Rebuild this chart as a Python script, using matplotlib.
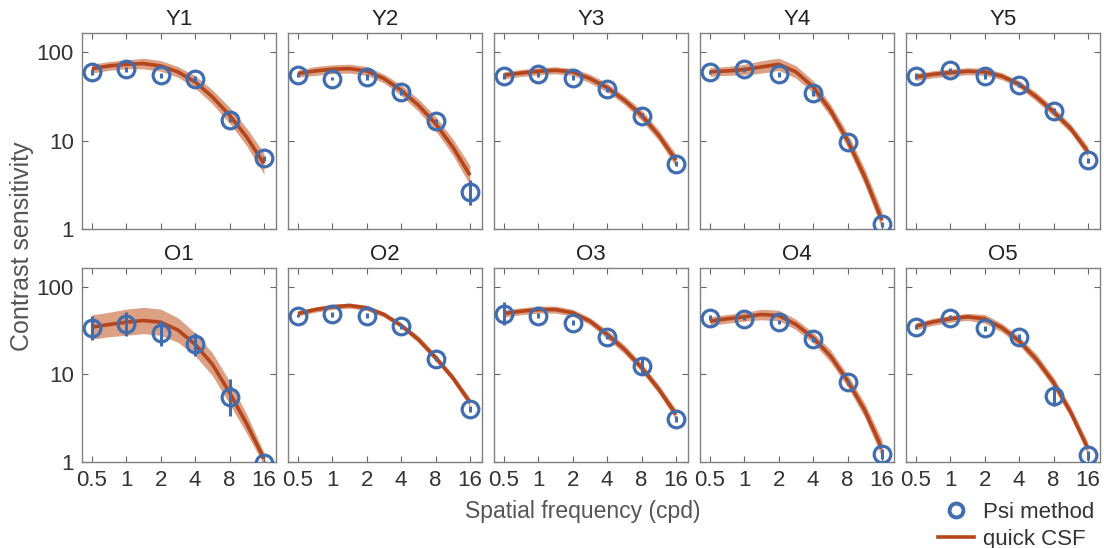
import numpy as np
import matplotlib
matplotlib.use('Agg')
import matplotlib.pyplot as plt
from matplotlib.lines import Line2D

plt.rcParams['font.family'] = ['Liberation Sans', 'DejaVu Sans']

# Observers and spatial frequencies (cpd)
panels = ['Y1', 'Y2', 'Y3', 'Y4', 'Y5', 'O1', 'O2', 'O3', 'O4', 'O5']
freqs = [0.5, 1, 2, 4, 8, 16]
curve_freqs = [0.5, 0.71, 1, 1.41, 2, 2.83, 4, 5.66, 8, 11.3, 16]

# Psi method thresholds (contrast sensitivity)
psi = {
    'Y1': [60, 64, 55, 50, 17.3, 6.3],
    'Y2': [55, 50.4, 52.6, 35.6, 16.6, 2.6],
    'Y3': [54, 56.4, 51.7, 38.2, 19.1, 5.5],
    'Y4': [60, 64.3, 56.4, 34.7, 9.7, 1.13],
    'Y5': [54, 62.6, 54, 43.1, 21.7, 6.0],
    'O1': [34.2, 38, 29.5, 22.1, 5.5, 0.98],
    'O2': [47.2, 48.5, 47.2, 35.7, 15.2, 4.04],
    'O3': [49.3, 47.2, 39, 27, 12.5, 3.1],
    'O4': [44.4, 43.6, 40, 25.2, 8.1, 1.24],
    'O5': [35.1, 44.4, 33.6, 26.8, 5.7, 1.19],
}
# Psi error bars, half-width in log10 units
psi_err = {
    'Y1': [0.03, 0.03, 0.03, 0.03, 0.03, 0.03],
    'Y2': [0.02, 0.02, 0.03, 0.03, 0.03, 0.14],
    'Y3': [0.03, 0.03, 0.03, 0.03, 0.03, 0.03],
    'Y4': [0.02, 0.03, 0.03, 0.03, 0.03, 0.03],
    'Y5': [0.03, 0.03, 0.03, 0.03, 0.03, 0.03],
    'O1': [0.137, 0.14, 0.146, 0.13, 0.21, 0.02],
    'O2': [0.02, 0.03, 0.03, 0.03, 0.03, 0.03],
    'O3': [0.13, 0.03, 0.03, 0.03, 0.1, 0.03],
    'O4': [0.03, 0.02, 0.02, 0.03, 0.03, 0.06],
    'O5': [0.02, 0.03, 0.03, 0.03, 0.12, 0.05],
}

# quick CSF estimate and credible band (half-width, log10 units)
qcsf = {
    'Y1': [65.3, 70.1, 73.1, 74.5, 70.1, 60, 46.2, 31.3, 19.4, 11.0, 5.5],
    'Y2': [57.4, 61.5, 64.3, 65.3, 61.5, 50.4, 37.2, 25.2, 15.6, 8.5, 4.07],
    'Y3': [55, 58.3, 61, 62.6, 60, 50.4, 39.9, 28.7, 19.4, 11.5, 6.0],
    'Y4': [60, 61.5, 63.7, 68.2, 73.1, 60, 40.6, 22.1, 10.1, 3.9, 1.26],
    'Y5': [52.6, 56.4, 58.9, 61, 60, 53.6, 43.5, 31.3, 21.2, 13.7, 7.5],
    'O1': [34.8, 37.3, 39.6, 41.4, 39.6, 32.2, 22.1, 13.1, 6.2, 2.73, 1.09],
    'O2': [49.8, 55.2, 59.3, 61.4, 57.7, 48.5, 36.4, 25.2, 15.6, 9.2, 4.8],
    'O3': [49.8, 52.8, 55.2, 55.2, 50.7, 40.7, 28.7, 19.4, 12.0, 6.8, 3.5],
    'O4': [40.7, 43.3, 45.6, 48.5, 47.2, 37.3, 26.3, 16.3, 8.5, 3.9, 1.42],
    'O5': [35.7, 40, 43.3, 45.6, 43.3, 34.2, 24.2, 14.9, 8.1, 3.7, 1.42],
}
qcsf_band = {
    'Y1': [0.05, 0.05, 0.05, 0.06, 0.06, 0.06, 0.07, 0.08, 0.09, 0.1, 0.12],
    'Y2': [0.04, 0.05, 0.05, 0.05, 0.05, 0.05, 0.06, 0.07, 0.08, 0.09, 0.11],
    'Y3': [0.04, 0.04, 0.04, 0.04, 0.04, 0.05, 0.05, 0.05, 0.06, 0.06, 0.07],
    'Y4': [0.05, 0.05, 0.06, 0.07, 0.07, 0.07, 0.07, 0.07, 0.08, 0.09, 0.1],
    'Y5': [0.04, 0.04, 0.04, 0.04, 0.04, 0.04, 0.04, 0.05, 0.05, 0.05, 0.06],
    'O1': [0.14, 0.14, 0.15, 0.15, 0.15, 0.14, 0.13, 0.13, 0.13, 0.11, 0.07],
    'O2': [0.03, 0.03, 0.03, 0.03, 0.03, 0.03, 0.03, 0.04, 0.04, 0.04, 0.05],
    'O3': [0.04, 0.04, 0.04, 0.04, 0.04, 0.04, 0.05, 0.05, 0.05, 0.05, 0.06],
    'O4': [0.05, 0.05, 0.05, 0.06, 0.06, 0.06, 0.06, 0.07, 0.07, 0.08, 0.1],
    'O5': [0.04, 0.04, 0.04, 0.04, 0.05, 0.05, 0.05, 0.06, 0.06, 0.06, 0.07],
}

blue = '#3f6db0'
rust = '#b5451b'
band_col = '#dca084'

fig = plt.figure(figsize=(11.04, 5.48), dpi=100)

left0, width, step = 0.0743, 0.1757, 0.1866
rows = [(0.582, 0.3577), (0.157, 0.354)]

for i, name in enumerate(panels):
    r, c = divmod(i, 5)
    bottom, height = rows[r]
    ax = fig.add_axes([left0 + c * step, bottom, width, height])

    cv = np.array(qcsf[name])
    bw = np.array(qcsf_band[name])
    ax.fill_between(curve_freqs, cv / 10 ** bw, cv * 10 ** bw,
                    color=band_col, lw=0, zorder=1)
    ax.plot(curve_freqs, cv, color=rust, lw=2.6, zorder=2,
            solid_capstyle='butt')

    pv = np.array(psi[name])
    pe = np.array(psi_err[name])
    yerr = [pv - pv / 10 ** pe, pv * 10 ** pe - pv]
    ax.errorbar(freqs, pv, yerr=yerr, fmt='o', mfc='none', mec=blue,
                mew=2.3, ms=12, ecolor=blue, elinewidth=2.2, capsize=0,
                zorder=3)

    ax.set_xscale('log')
    ax.set_yscale('log')
    ax.set_xlim(0.41, 20.4)
    ax.set_ylim(1, 165)
    ax.set_xticks(freqs)
    ax.set_yticks([1, 10, 100])
    ax.minorticks_off()
    ax.tick_params(direction='in', length=4, width=0.8, top=True, right=True,
                   color='#666666', labelsize=16, labelcolor='#333333', pad=6)
    if r == 1:
        ax.set_xticklabels(['0.5', '1', '2', '4', '8', '16'])
    else:
        ax.set_xticklabels([])
    if c == 0:
        ax.set_yticklabels(['1', '10', '100'])
    else:
        ax.set_yticklabels([])
    for s in ax.spines.values():
        s.set_color('#808080')
        s.set_linewidth(1.0)
    ax.set_title(name, fontsize=16, color='#222222', pad=6)

fig.text(0.02, 0.55, 'Contrast sensitivity', rotation=90, ha='center',
         va='center', fontsize=18, color='#555555')
fig.text(0.528, 0.066, 'Spatial frequency (cpd)', ha='center', va='center',
         fontsize=16.5, color='#555555')

handles = [Line2D([], [], marker='o', ls='none', mfc='none', mec=blue,
                  mew=2.8, ms=10),
           Line2D([], [], color=rust, lw=2.6)]
fig.legend(handles, ['Psi method', 'quick CSF'], loc='upper left',
           bbox_to_anchor=(0.842, 0.1), frameon=False, fontsize=16,
           handlelength=1.6, handletextpad=0.4, labelspacing=0.25,
           labelcolor='#333333', borderaxespad=0)

fig.savefig('out.png', dpi=100)
